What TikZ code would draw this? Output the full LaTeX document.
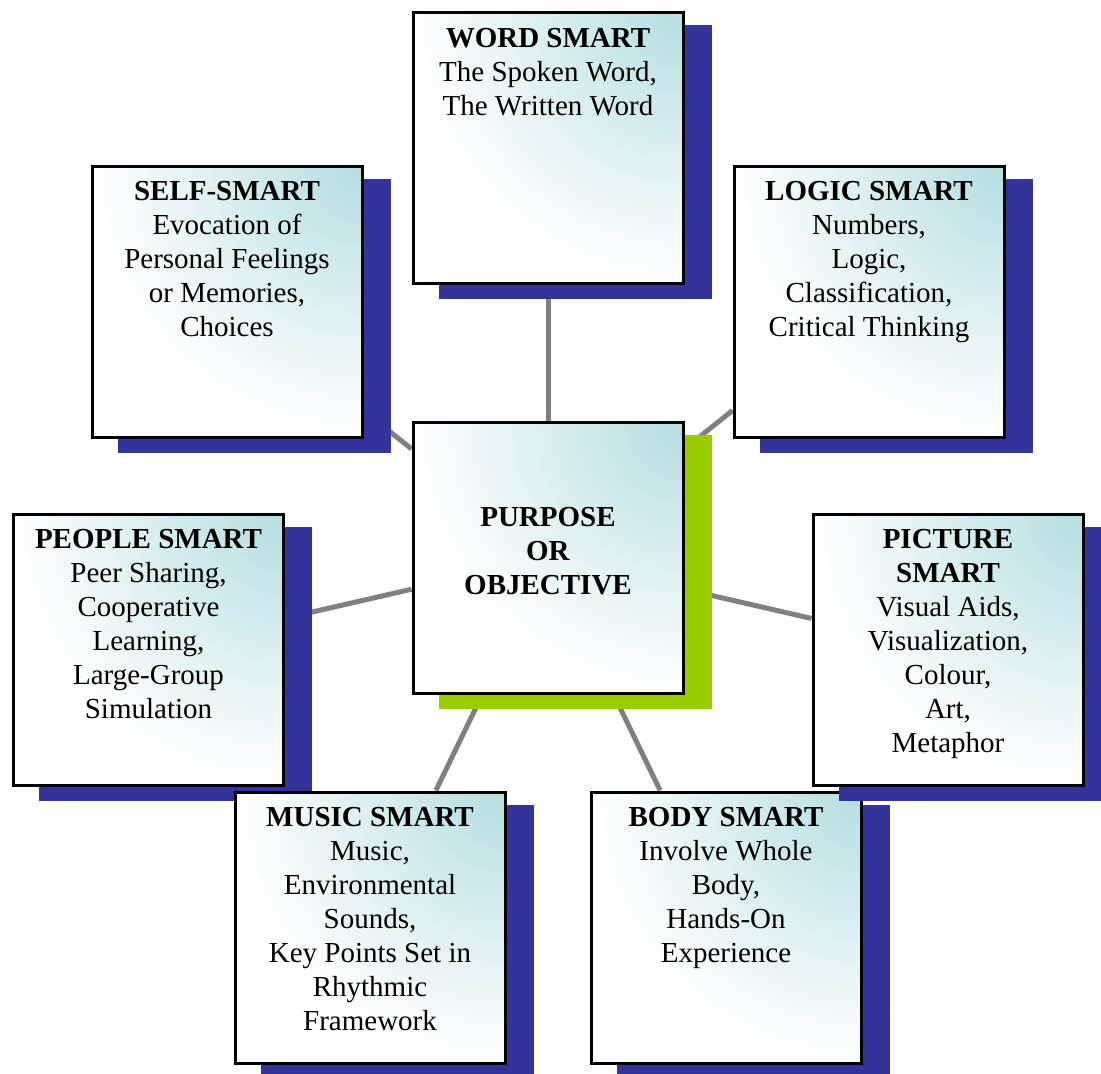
\documentclass[tikz,border=0pt]{standalone}
\usepackage{fontspec}
\setmainfont{Liberation Serif}
\definecolor{glow}{RGB}{180,222,225}
\definecolor{shadowblue}{RGB}{51,51,153}
\definecolor{shadowgreen}{RGB}{153,204,0}
\definecolor{linkgray}{RGB}{128,128,128}
\pgfdeclarelayer{links}
\pgfsetlayers{links,main}
\tikzset{
  % soft glow spreading from the top-right corner, built from concentric discs
  cornerglow/.style={path picture={
    \foreach \k in {0,...,59}{
      \pgfmathsetmacro\rr{270*(1-\k/60)}
      \pgfmathsetmacro\pc{100*\k/60}
      \fill[glow!\pc!white] (path picture bounding box.north east) circle[radius=\rr pt];
    }}},
  smartbox/.style={draw=black, line width=3pt, fill=white, minimum width=270pt, minimum height=271pt, inner sep=0pt, cornerglow},
  ghostbox/.style={minimum width=270pt, minimum height=271pt, inner sep=0pt, line width=3pt},
  boxtext/.style={font=\fontsize{29}{34}\selectfont, align=center, inner sep=0pt, anchor=north},
  link/.style={draw=linkgray, line width=5pt},
}
\newcommand{\dropshadow}[2]{\fill[#2] ([shift={(27,14)}]#1.south west) rectangle ([shift={(27,14)}]#1.north east);}
\begin{document}
\begin{tikzpicture}[x=1pt, y=-1pt]
\useasboundingbox (0,0) rectangle (1101,1074);
\clip (0,0) rectangle (1101,1074);

% WORD SMART
\path (548,148) node[ghostbox] (wordpos) {};
\dropshadow{wordpos}{shadowblue}
\node[smartbox] (word) at (548,148) {};
\node[boxtext] (wordtxt) at ([yshift=-17]word.north) {\textbf{WORD SMART}\\The Spoken Word,\\The Written Word};

% SELF-SMART
\path (227,301.5) node[ghostbox] (selfpos) {};
\dropshadow{selfpos}{shadowblue}
\node[smartbox] (self) at (227,301.5) {};
\node[boxtext] (selftxt) at ([yshift=-17]self.north) {\textbf{SELF-SMART}\\Evocation of\\Personal Feelings\\or Memories,\\Choices};

% LOGIC SMART
\path (869,301.5) node[ghostbox] (logicpos) {};
\dropshadow{logicpos}{shadowblue}
\node[smartbox] (logic) at (869,301.5) {};
\node[boxtext] (logictxt) at ([yshift=-17]logic.north) {\textbf{LOGIC SMART}\\Numbers,\\Logic,\\Classification,\\Critical Thinking};

% PEOPLE SMART
\path (148.5,649.5) node[ghostbox] (peoplepos) {};
\dropshadow{peoplepos}{shadowblue}
\node[smartbox] (people) at (148.5,649.5) {};
\node[boxtext] (peopletxt) at ([yshift=-17]people.north) {\textbf{PEOPLE SMART}\\Peer Sharing,\\Cooperative\\Learning,\\Large-Group\\Simulation};

% MUSIC SMART
\path (370,927.5) node[ghostbox] (musicpos) {};
\dropshadow{musicpos}{shadowblue}
\node[smartbox] (music) at (370,927.5) {};
\node[boxtext] (musictxt) at ([yshift=-17]music.north) {\textbf{MUSIC SMART}\\Music,\\Environmental\\Sounds,\\Key Points Set in\\Rhythmic\\Framework};

% BODY SMART
\path (726,927.5) node[ghostbox] (bodypos) {};
\dropshadow{bodypos}{shadowblue}
\node[smartbox] (body) at (726,927.5) {};
\node[boxtext] (bodytxt) at ([yshift=-17]body.north) {\textbf{BODY SMART}\\Involve Whole\\Body,\\Hands-On\\Experience};

% PICTURE SMART
\path (948,649.5) node[ghostbox] (picturepos) {};
\dropshadow{picturepos}{shadowblue}
\node[smartbox] (picture) at (948,649.5) {};
\node[boxtext] (picturetxt) at ([yshift=-17]picture.north) {\textbf{PICTURE}\\\textbf{SMART}\\Visual Aids,\\Visualization,\\Colour,\\Art,\\Metaphor};

% PURPOSE OR OBJECTIVE (hub)
\path (548,558) node[ghostbox] (hubpos) {};
\dropshadow{hubpos}{shadowgreen}
\node[smartbox] (hub) at (548,558) {};
\node[boxtext, anchor=center] (hubtxt) at (548,551) {\textbf{PURPOSE}\\\textbf{OR}\\\textbf{OBJECTIVE}};

% spokes, behind everything
\begin{pgfonlayer}{links}
  \foreach \n in {word,self,logic,people,picture,music,body}
    \draw[link] (hub) -- (\n);
\end{pgfonlayer}
\end{tikzpicture}
\end{document}
